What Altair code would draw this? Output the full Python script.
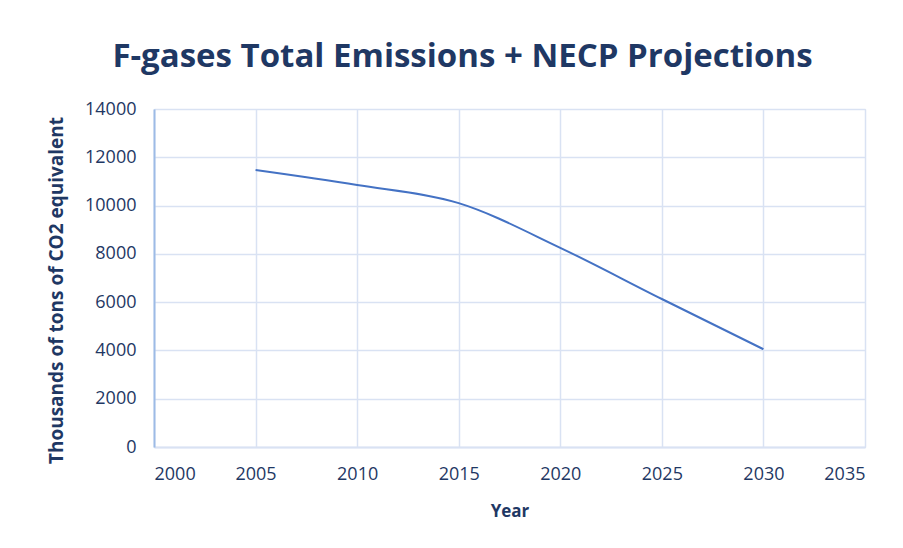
import altair as alt
import pandas as pd

years = [2005, 2010, 2015, 2020, 2025, 2030]
emissions = [11470, 10850, 10100, 8250, 6130, 4050]

df = pd.DataFrame({"Year": years, "Emissions": emissions})

TEXT = "#1f3864"
GRID = "#d9e2f3"

chart = alt.Chart(df).mark_line(
    interpolate="monotone", color="#4472c4", strokeWidth=2
).encode(
    x=alt.X("Year:Q", scale=alt.Scale(domain=[2000, 2035], nice=False),
            axis=alt.Axis(values=[2000, 2005, 2010, 2015, 2020, 2025, 2030, 2035],
                          format="d", title="Year", grid=True, gridColor=GRID,
                          gridWidth=1.5, domainColor=GRID, domainWidth=2,
                          ticks=False, labelPadding=18, labelFontSize=18,
                          labelColor=TEXT, titleFontSize=17, titleFontWeight="bold",
                          titleColor=TEXT, titlePadding=20, labelFont="Open Sans",
                          titleFont="Open Sans")),
    y=alt.Y("Emissions:Q", scale=alt.Scale(domain=[0, 14000], nice=False),
            axis=alt.Axis(values=list(range(0, 14001, 2000)), format="d",
                          title="Thousands of tons of CO2 equivalent", grid=True,
                          gridColor=GRID, gridWidth=1.5, domainColor="#9dbbe6",
                          domainWidth=2, ticks=False, labelPadding=18,
                          labelFontSize=18, labelColor=TEXT, titleFontSize=19,
                          titleFontWeight="bold", titleColor=TEXT, titlePadding=18,
                          titleY=181,
                          labelFont="Open Sans", titleFont="Open Sans")),
).properties(
    width=711,
    height=338,
    title=alt.TitleParams("F-gases Total Emissions + NECP Projections",
                          fontSize=33, font="Open Sans", fontWeight="bold",
                          color=TEXT, anchor="middle", dx=-47, offset=26),
    autosize=alt.AutoSizeParams(type="none"),
    padding={"left": 146, "top": 101, "right": 30, "bottom": 93},
).configure_view(stroke=None).configure(background="white")

chart.save("out.html", embed_options={"renderer": "svg", "actions": False})
